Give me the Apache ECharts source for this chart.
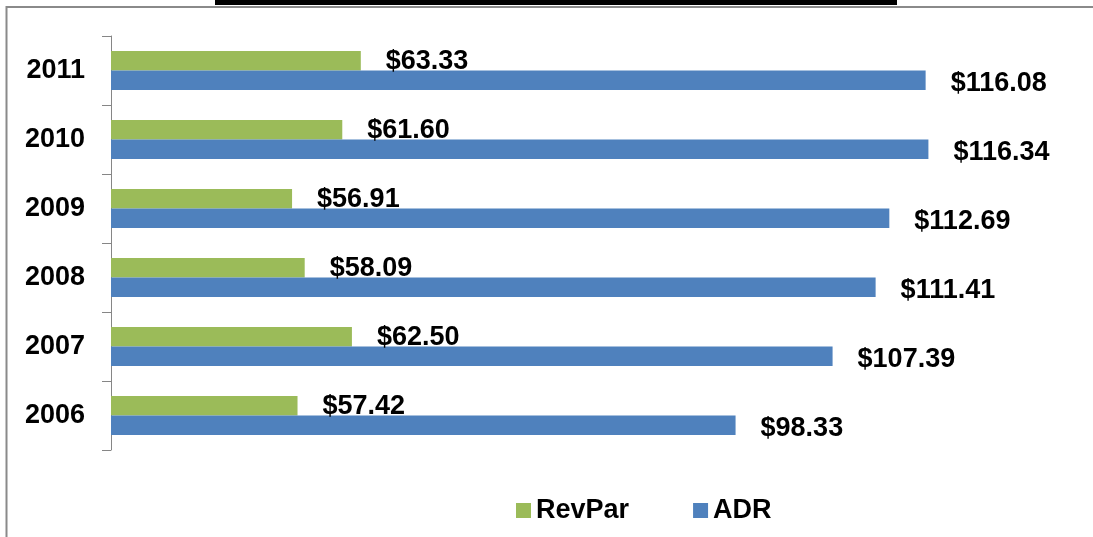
<!DOCTYPE html>
<html>
<head>
<meta charset="utf-8">
<script src="https://cdn.jsdelivr.net/npm/echarts@6/dist/echarts.min.js"></script>
<style>
html,body{margin:0;padding:0;background:#fff;}
#chart{width:1093px;height:537px;}
</style>
</head>
<body>
<div id="chart"></div>
<script>
var categories = ['2006', '2007', '2008', '2009', '2010', '2011'];
var revpar = [57.42, 62.50, 58.09, 56.91, 61.60, 63.33];
var adr = [98.33, 107.39, 111.41, 112.69, 116.34, 116.08];
var seriesNames = ['RevPar', 'ADR'];

var chart = echarts.init(document.getElementById('chart'));
var fontFam = 'Liberation Sans, Arial, sans-serif';
var fs = 27;
function lbl(dy) {
  return {
    show: true,
    position: 'right',
    distance: 25,
    offset: [0, dy],
    color: '#000',
    fontSize: fs,
    fontWeight: 'bold',
    fontFamily: fontFam,
    formatter: function (p) { return '$' + p.value.toFixed(2); }
  };
}
chart.setOption({
  animation: false,
  backgroundColor: '#fff',
  graphic: [
    { type: 'rect', shape: { x: 6.5, y: 7, width: 1200, height: 600 }, style: { fill: 'none', stroke: '#8a8a8a', lineWidth: 2 }, silent: true },
    { type: 'rect', shape: { x: 215, y: 0, width: 682, height: 5 }, style: { fill: '#000' }, silent: true }
  ],
  grid: { left: 111, top: 36, height: 414, right: 125.4, containLabel: false },
  xAxis: {
    type: 'value', min: 40, max: 120, show: false
  },
  yAxis: {
    type: 'category',
    data: categories,
    axisLine: { show: true, lineStyle: { color: '#868686', width: 1 } },
    axisTick: { show: true, length: 9, lineStyle: { color: '#868686' } },
    axisLabel: { margin: 26, color: '#000', fontSize: fs, fontWeight: 'bold', fontFamily: fontFam },
    splitLine: { show: false }
  },
  legend: {
    data: seriesNames,
    left: 511, top: 492,
    itemWidth: 15, itemHeight: 15, itemGap: 64,
    icon: 'rect',
    textStyle: { color: '#000', fontSize: fs, fontWeight: 'bold', fontFamily: fontFam }
  },
  series: [
    { name: seriesNames[0], type: 'bar', data: revpar, barWidth: 19.5, barGap: '0%', itemStyle: { color: '#9BBB59' }, label: lbl(1) },
    { name: seriesNames[1], type: 'bar', data: adr, barWidth: 19.5, barGap: '0%', itemStyle: { color: '#4F81BD' }, label: lbl(3) }
  ]
});
</script>
</body>
</html>
